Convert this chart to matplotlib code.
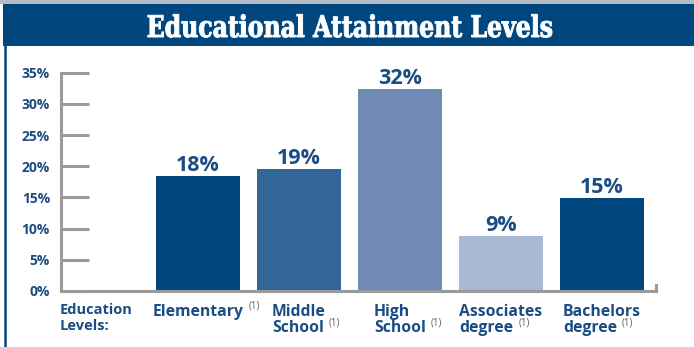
import matplotlib
matplotlib.use('Agg')
import matplotlib.pyplot as plt
from matplotlib import patheffects
from matplotlib.patches import Rectangle
from matplotlib.lines import Line2D
from matplotlib.transforms import Affine2D

categories = ['Elementary', 'Middle\nSchool', 'High\nSchool', 'Associates\ndegree', 'Bachelors\ndegree']
shares = [18.4, 19.6, 32.4, 8.8, 14.9]
share_labels = ['18%', '19%', '32%', '9%', '15%']
bar_colors = ['#00467f', '#336699', '#6e8ab5', '#a9b9d5', '#00467f']
y_ticks = [0, 5, 10, 15, 20, 25, 30, 35]
footnote = '(1)'
title = 'Educational Attainment Levels'
axis_caption = 'Education\nLevels:'

NAVY = '#00467f'
TEXT = '#1b4d84'
GREY = '#9a9a9a'
FONT = 'Open Sans'
W, H = 694, 347


class Squeeze(patheffects.AbstractPathEffect):
    # narrow (and slightly thicken) the glyphs around the middle of the string
    def __init__(self, sx, stroke=0.0):
        super().__init__()
        self.sx = sx
        self.stroke = stroke

    def draw_path(self, renderer, gc, tpath, affine, rgbFace=None):
        ext = tpath.get_extents()
        cx = (ext.x0 + ext.x1) / 2
        squeeze = Affine2D().translate(-cx, 0).scale(self.sx, 1).translate(cx, 0)
        gc0 = renderer.new_gc()
        gc0.copy_properties(gc)
        if self.stroke:
            gc0.set_linewidth(self.stroke)
            gc0.set_foreground(rgbFace)
        renderer.draw_path(gc0, tpath, squeeze + affine, rgbFace)
        gc0.restore()


fig = plt.figure(figsize=(W / 100, H / 100), dpi=100)

# frame: grey rule, navy banner, navy left border
fig.add_artist(Rectangle((0, 1 - 4 / H), 1, 4 / H, transform=fig.transFigure,
                         color='#b4bcc6', lw=0))
fig.add_artist(Rectangle((3 / W, 1 - 46 / H), 1, 42 / H, transform=fig.transFigure,
                         color=NAVY, lw=0))
fig.add_artist(Line2D([5 / W, 5 / W], [0, 1 - 46 / H], transform=fig.transFigure,
                      color=NAVY, lw=1.8))
fig.text(350 / W, 1 - 37 / H, title, color='white', family='DejaVu Serif',
         weight='bold', size=21.5, ha='center', va='baseline',
         path_effects=[Squeeze(0.79, stroke=0.7)])

ax = fig.add_axes([61 / W, 56 / H, 595 / W, 218.3 / H])
x = list(range(len(categories)))
bars = ax.bar(x, shares, width=0.83, color=bar_colors, zorder=2)
ax.bar_label(bars, labels=share_labels, padding=0, color=TEXT,
             fontsize=15.5, fontweight='bold', family=FONT)

ax.set_xlim(-1.356, 4.535)
ax.set_ylim(0, 35)
ax.set_yticks(y_ticks, [f'{v}%' for v in y_ticks])
ax.set_xticks(x, categories)

for side in ['left', 'bottom', 'right']:
    ax.spines[side].set_color(GREY)
    ax.spines[side].set_linewidth(2.2)
ax.spines['top'].set_visible(False)
ax.spines['right'].set_bounds(0, 1)

ax.tick_params(axis='y', direction='in', length=20, width=2.2, color=GREY,
               pad=8, labelcolor=TEXT, labelsize=10)
ax.tick_params(axis='x', length=0, pad=9, labelcolor=TEXT, labelsize=11.3)
plt.setp(ax.get_yticklabels(), fontweight='bold', family=FONT)
plt.setp(ax.get_xticklabels(), fontweight='bold', family=FONT,
         multialignment='left', linespacing=1.08)

ax.annotate(axis_caption, xy=(0, 0), xycoords='axes fraction', xytext=(-1, -9),
            textcoords='offset points', ha='left', va='top', color=TEXT,
            fontsize=10.5, fontweight='bold', family=FONT, linespacing=1.15)

# small "(1)" note after the last line of each category label
fig.canvas.draw()
renderer = fig.canvas.get_renderer()
for lab in ax.get_xticklabels():
    bb = lab.get_window_extent(renderer)
    last = lab.get_text().split('\n')[-1]
    probe = fig.text(0, 0, last, fontproperties=lab.get_fontproperties())
    pb = probe.get_window_extent(renderer)
    probe.remove()
    fig.text((bb.x0 + pb.width + 5) / W, (bb.y0 + pb.height + 3) / H, footnote,
             color='#606060', size=7, family=FONT, ha='left', va='top')

fig.savefig('out.png', dpi=100)
